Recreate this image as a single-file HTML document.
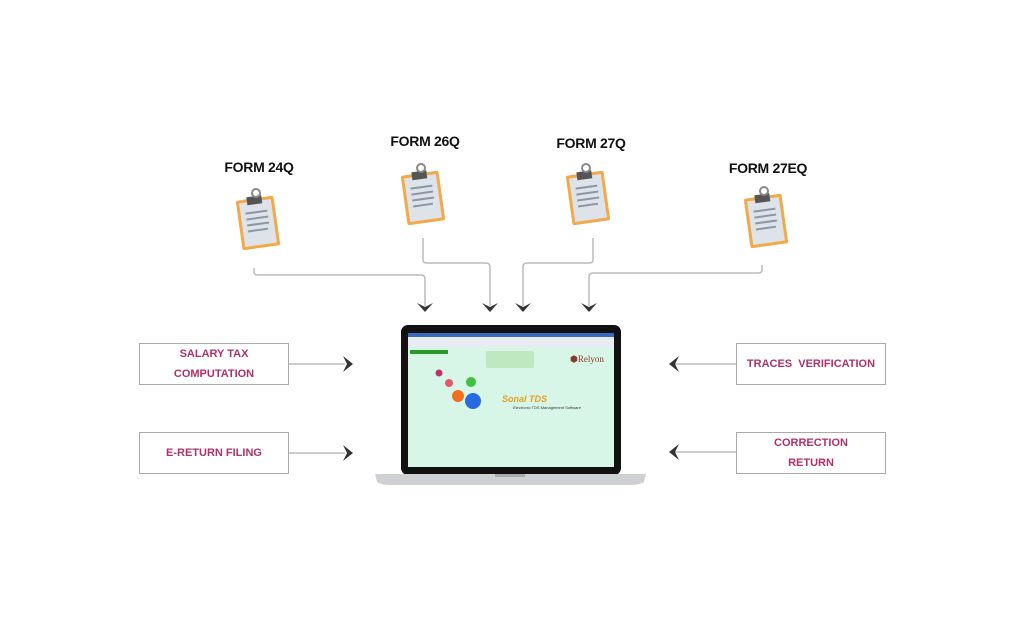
<!DOCTYPE html>
<html><head><meta charset="utf-8"><style>
body{margin:0;width:1024px;height:621px;background:#fff;position:relative;overflow:hidden;font-family:"Liberation Sans",sans-serif}
.t{position:absolute;font-weight:bold;font-size:14px;color:#111;transform:translateX(-50%);white-space:nowrap;letter-spacing:-0.3px}
.b{position:absolute;width:150px;height:42px;border:1px solid #aaa;box-sizing:border-box;color:#b0306a;font-size:11px;font-weight:bold;display:flex;align-items:center;justify-content:center;text-align:center;line-height:20px}
</style></head><body>
<div class="t" style="left:259px;top:159px">FORM 24Q</div>
<div class="t" style="left:425px;top:133px">FORM 26Q</div>
<div class="t" style="left:591px;top:135px">FORM 27Q</div>
<div class="t" style="left:768px;top:160px">FORM 27EQ</div>
<svg width="1024" height="621" style="position:absolute;left:0;top:0">
<defs>
<g id="clip">
<rect x="2" y="8" width="38" height="50" rx="2" fill="#f2a94a" transform="rotate(-8 21 33)"/>
<rect x="5" y="11" width="32" height="44" fill="#dde3e8" transform="rotate(-8 21 33)"/>
<g stroke="#8a97a6" stroke-width="2" transform="rotate(-8 21 33)"><line x1="10" y1="22" x2="32" y2="22"/><line x1="10" y1="28" x2="32" y2="28"/><line x1="10" y1="34" x2="32" y2="34"/><line x1="10" y1="40" x2="30" y2="40"/></g>
<rect x="13" y="6" width="15" height="8" fill="#555" transform="rotate(-8 21 33)"/>
<circle cx="19" cy="3" r="4" fill="none" stroke="#888" stroke-width="2"/>
</g>
<path id="ad" d="M-8,-7 L0,2 L8,-7 L0,-3 Z" fill="#333"/>
</defs>
<use href="#clip" x="237" y="190"/>
<use href="#clip" x="402" y="165"/>
<use href="#clip" x="567" y="165"/>
<use href="#clip" x="745" y="188"/>
<g fill="none" stroke="#bbb" stroke-width="1.5">
<path d="M254,268 V272 Q254,275 258,275 H421 Q425,275 425,279 V306"/>
<path d="M423,238 V260 Q423,263 427,263 H486 Q490,263 490,267 V306"/>
<path d="M593,238 V260 Q593,263 589,263 H527 Q523,263 523,267 V306"/>
<path d="M762,265 V270 Q762,273 758,273 H593 Q589,273 589,277 V306"/>
<line x1="288" y1="364" x2="345" y2="364"/><line x1="288" y1="453" x2="345" y2="453"/>
<line x1="675" y1="364" x2="736" y2="364"/><line x1="675" y1="452" x2="736" y2="452"/>
</g>
<use href="#ad" x="425" y="310"/><use href="#ad" x="490" y="310"/><use href="#ad" x="523" y="310"/><use href="#ad" x="589" y="310"/>
<path d="M343,356 L353,364 L343,372 L347,364Z" fill="#333"/>
<path d="M343,445 L353,453 L343,461 L347,453Z" fill="#333"/>
<path d="M679,356 L669,364 L679,372 L675,364Z" fill="#333"/>
<path d="M679,444 L669,452 L679,460 L675,452Z" fill="#333"/>
<rect x="401" y="325" width="220" height="150" rx="7" fill="#111"/>
<rect x="408" y="333" width="206" height="134" fill="#d8f6e8"/>
<rect x="408" y="333" width="206" height="4" fill="#3a6bc0"/>
<rect x="408" y="337" width="206" height="10" fill="#e8ecf2"/>
<rect x="410" y="350" width="38" height="4" fill="#2a9a2a"/>
<rect x="486" y="351" width="48" height="17" rx="2" fill="#bfe8c0"/>
<text x="570" y="362" font-size="9" fill="#8a3a2a" font-family="Liberation Serif">⬢Relyon</text>
<circle cx="439" cy="373" r="3.5" fill="#c03070"/><circle cx="449" cy="383" r="4" fill="#e05a6a"/>
<circle cx="471" cy="382" r="5" fill="#40c040"/><circle cx="458" cy="396" r="6" fill="#f07020"/>
<circle cx="473" cy="401" r="8" fill="#2a6ae0"/>
<text x="502" y="402" font-size="9" font-weight="bold" fill="#e0a020" font-style="italic">Sonal TDS</text>
<text x="513" y="409" font-size="4" fill="#333">Electronic TDS Management Software</text>
<path d="M375,474 H646 L644,482 Q640,485 630,485 H391 Q381,485 377,482Z" fill="#cfd0d3"/>
<rect x="495" y="474" width="30" height="3" fill="#aaa"/>
</svg>
<div class="b" style="left:139px;top:343px">SALARY TAX<br>COMPUTATION</div>
<div class="b" style="left:139px;top:432px">E-RETURN FILING</div>
<div class="b" style="left:736px;top:343px">TRACES&nbsp; VERIFICATION</div>
<div class="b" style="left:736px;top:432px">CORRECTION<br>RETURN</div>
</body></html>
